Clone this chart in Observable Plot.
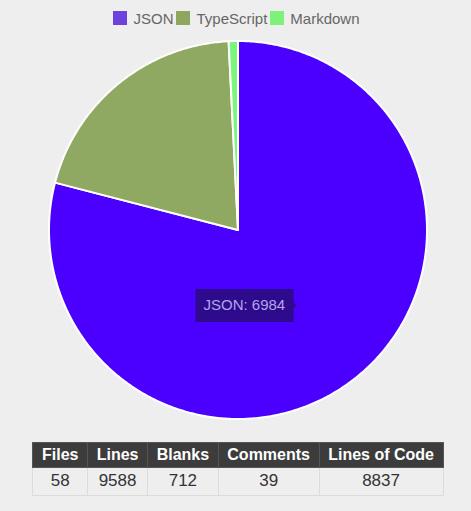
<!DOCTYPE html>
<html><head><meta charset="utf-8">
<script src="https://cdn.jsdelivr.net/npm/d3@7"></script>
<script src="https://cdn.jsdelivr.net/npm/@observablehq/plot@0.6"></script>
<style>
body{margin:0;background:#eeeeee;font-family:Arial,"Liberation Sans",sans-serif;}
#wrap{width:476px;}
#legend{display:flex;justify-content:center;align-items:center;height:28px;padding-top:4px;font-size:15px;color:#666;}
#legend .item{display:flex;align-items:center;margin-right:3px;}
#legend .box{width:14px;height:14px;box-sizing:border-box;margin-right:6px;}
#chart svg{display:block;background:transparent;}
#chart g[aria-label="tip"] text{fill:#b3a5ea;}
table{border-collapse:collapse;margin:10px auto 0;}
th{background:#3c3c3c;color:#fff;font:bold 16px Arial,"Liberation Sans",sans-serif;padding:3px 8.6px;border:1px solid #555;}
td{font:17px Arial,"Liberation Sans",sans-serif;color:#333;padding:3px 8.6px 4px;text-align:center;border:1px solid #dcdcdc;}
</style></head>
<body><div id="wrap"><div id="legend"></div><div id="chart"></div><table id="stats"></table></div>
<script>
const languages = ["JSON", "TypeScript", "Markdown"];
const lineCounts = [6984, 1783, 70];
const sliceColors = ["#4b00ff", "#8fa862", "#7cf57c"];
const legendColors = ["#6f42dd", "#8ea65e", "#7ff07a"];
const tableHeaders = ["Files", "Lines", "Blanks", "Comments", "Lines of Code"];
const tableValues = [58, 9588, 712, 39, 8837];
const tipIndex = 0;

// legend
const legend = document.getElementById("legend");
languages.forEach((name, i) => {
  const item = document.createElement("div"); item.className = "item";
  const box = document.createElement("span"); box.className = "box"; box.style.background = legendColors[i];
  const label = document.createElement("span"); label.textContent = name;
  item.append(box, label); legend.append(item);
});

// pie geometry from data
const arcs = d3.pie().sort(null).value(d => d)(lineCounts);
const points = [];
arcs.forEach((a, i) => {
  const n = Math.max(2, Math.ceil((a.endAngle - a.startAngle) / 0.01));
  for (let k = 0; k <= n; k++) {
    const t = a.startAngle + (a.endAngle - a.startAngle) * k / n;
    points.push({name: languages[i], x: Math.sin(t), y: Math.cos(t)});
  }
});
const ta = arcs[tipIndex];
const mid = (ta.startAngle + ta.endAngle) / 2;
const tipData = [{x: Math.sin(mid) * 0.5, y: Math.cos(mid) * 0.5, label: `${languages[tipIndex]}: ${lineCounts[tipIndex]}`}];

const plot = Plot.plot({
  width: 476, height: 400,
  x: {domain: [-1, 1], range: [49, 427], axis: null},
  y: {domain: [-1, 1], range: [387, 9], axis: null},
  color: {domain: languages, range: sliceColors},
  style: {fontFamily: "Arial, 'Liberation Sans', sans-serif"},
  marks: [
    Plot.area(points, {x1: "x", y1: "y", x2: 0, y2: 0, z: "name", fill: "name", stroke: "#ffffff", strokeWidth: 2, strokeLinejoin: "round"}),
    Plot.tip(tipData, {x: "x", y: "y", title: "label", anchor: "right", fill: "#2d0b8c", stroke: "none", pointerSize: 6, textPadding: 8, lineHeight: 0.75, fontSize: 15, pathFilter: "none"})
  ]
});
document.getElementById("chart").append(plot);

// table
const table = document.getElementById("stats");
const hr = document.createElement("tr");
tableHeaders.forEach(h => { const th = document.createElement("th"); th.textContent = h; hr.append(th); });
const br = document.createElement("tr");
tableValues.forEach(v => { const td = document.createElement("td"); td.textContent = v; br.append(td); });
table.append(hr, br);
</script></body></html>
